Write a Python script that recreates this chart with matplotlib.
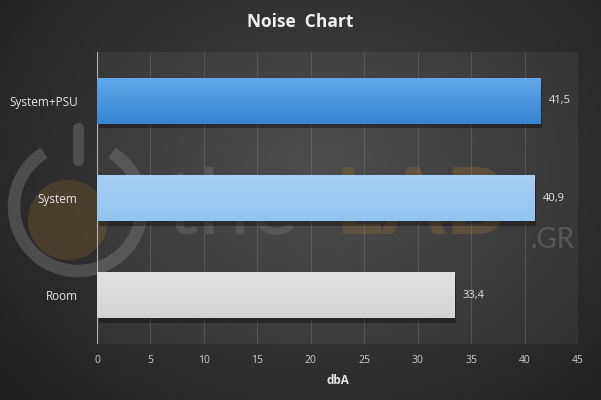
import numpy as np
import matplotlib
matplotlib.use("Agg")
import matplotlib.pyplot as plt
from matplotlib.patches import Rectangle, Arc, Circle

categories = ["Room", "System", "System+PSU"]
values = [33.4, 40.9, 41.5]
value_labels = ["33,4", "40,9", "41,5"]
xticks = [0, 5, 10, 15, 20, 25, 30, 35, 40, 45]
bar_top_colors = ["#e2e2e2", "#a6d0f5", "#62a8ea"]
bar_bot_colors = ["#d4d4d4", "#93c4ef", "#3784d2"]

plt.rcParams['font.family'] = ['Open Sans', 'DejaVu Sans']

fig = plt.figure(figsize=(6.01, 4.0), dpi=100)

# background radial gradient
bg = fig.add_axes([0, 0, 1, 1], zorder=-10)
yy, xx = np.mgrid[0:400, 0:601]
r = np.sqrt(((xx - 320) / 380.0) ** 2 + ((yy - 170) / 300.0) ** 2)
c = np.clip(0.27 - 0.13 * r, 0.13, 0.28)
img = np.dstack([c, c, c])
bg.imshow(img, aspect='auto', extent=[0, 601, 400, 0])
bg.set_xlim(0, 601)
bg.set_ylim(400, 0)
bg.set_axis_off()
# faint watermark
bg.add_patch(Circle((68, 220), 40, color="#5e4a2c", alpha=0.6, linewidth=0))
bg.add_patch(Arc((78, 207), 128, 128, theta1=-58, theta2=238, color="#5c5c5c",
                 linewidth=9, alpha=0.7))
bg.plot([78, 78], [128, 160], color="#5c5c5c", linewidth=8, alpha=0.7,
        solid_capstyle="round")
bg.text(166, 208, "the", fontsize=66, color="#5e5e5e", alpha=0.55, ha="left",
        va="center", family="Lato")
bg.text(335, 208, "LAB", fontsize=66, color="#6e5530", alpha=0.55, ha="left",
        va="center", family="Lato", fontweight="bold")
bg.text(530, 240, ".GR", fontsize=20, color="#666666", alpha=0.6, ha="left",
        va="center", family="Lato")

ax = fig.add_axes([97/601, 1-344/400, (578-97)/601, (344-52)/400])
ax.patch.set_facecolor("white")
ax.patch.set_alpha(0.05)
y = np.arange(len(categories))
h = 0.47

for i, v in enumerate(values):
    ax.add_patch(Rectangle((0.15, y[i] - h/2 - 0.05), v, h, color="black", alpha=0.35,
                           zorder=2, linewidth=0))
    bars = ax.barh(y[i], v, height=h, color=bar_top_colors[i], zorder=3, linewidth=0)
    p = bars[0]
    top = np.array(matplotlib.colors.to_rgb(bar_top_colors[i]))
    bot = np.array(matplotlib.colors.to_rgb(bar_bot_colors[i]))
    t = np.linspace(0, 1, 64)[:, None]
    grad = (top * (1 - t) + bot * t)[:, None, :]
    im = ax.imshow(grad, extent=[0, v, y[i] - h/2, y[i] + h/2], origin="upper",
                   aspect='auto', zorder=4)
    im.set_clip_path(p)
    ax.text(v + 0.8, y[i], value_labels[i], va="center", ha="left", color="#e6e6e6",
            fontsize=8, zorder=5)

ax.set_xlim(0, 45)
ax.set_ylim(-0.5, 2.5)
ax.set_xticks(xticks)
ax.set_xticklabels([str(t) for t in xticks], color="#cfcfcf", fontsize=7.5)
ax.set_yticks(y)
ax.set_yticklabels(categories, color="#e6e6e6", fontsize=8.5)
ax.tick_params(length=0, pad=8)
ax.tick_params(axis='y', pad=14)
ax.grid(axis='x', color="#9a9a9a", linewidth=0.5, alpha=0.4, zorder=0)
ax.axvline(0, color="#bdbdbd", linewidth=0.8, zorder=1)
for s in ax.spines.values():
    s.set_visible(False)
ax.set_xlabel("dbA", color="#e6e6e6", fontsize=8.5, fontweight="bold", labelpad=6)

fig.text(0.5, 0.945, "Noise  Chart", ha="center", va="center", color="#f0f0f0",
         fontsize=12.5, fontweight="bold")

fig.savefig("out.png", dpi=100)
